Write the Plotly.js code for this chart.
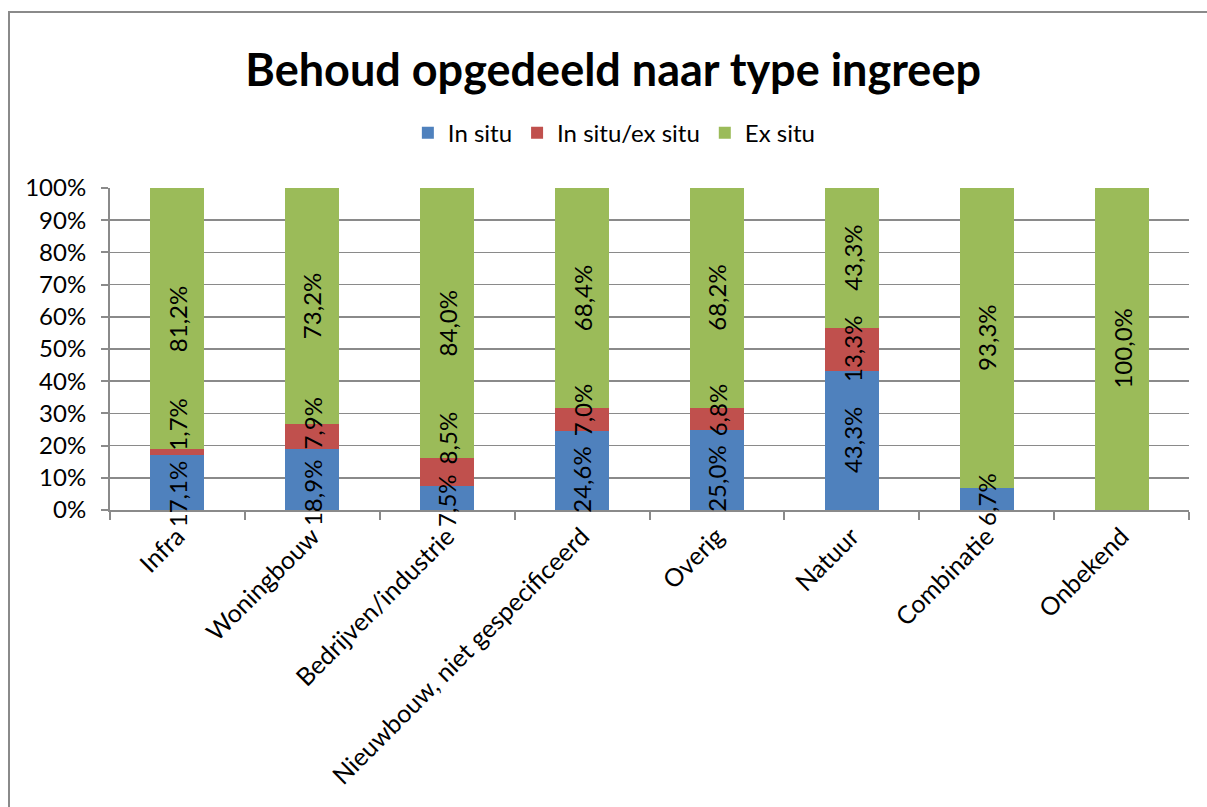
<!DOCTYPE html>
<html>
<head>
<meta charset="utf-8">
<script src="https://cdn.plot.ly/plotly-3.0.1.min.js"></script>
<style>
html,body{margin:0;padding:0;background:#fff;}
#chart{position:absolute;left:0;top:0;width:1207px;height:807px;}
#frame{position:absolute;left:8px;top:11px;width:1300px;height:900px;border-left:2px solid #8a8a8a;border-top:2px solid #8a8a8a;pointer-events:none;}
</style>
</head>
<body>
<div id="chart"></div>
<div id="frame"></div>
<script>
const categories = ["Infra", "Woningbouw", "Bedrijven/industrie", "Nieuwbouw, niet gespecificeerd", "Overig", "Natuur", "Combinatie", "Onbekend"];
const inSitu = [17.1, 18.9, 7.5, 24.6, 25.0, 43.3, 6.7, 0];
const inSituExSitu = [1.7, 7.9, 8.5, 7.0, 6.8, 13.3, 0, 0];
const exSitu = [81.2, 73.2, 84.0, 68.4, 68.2, 43.3, 93.3, 100.0];
const seriesNames = ["In situ", "In situ/ex situ", "Ex situ"];
const yTickVals = [0, 10, 20, 30, 40, 50, 60, 70, 80, 90, 100];

const colors = ["#4F81BD", "#C0504D", "#9BBB59"];
const fontFam = "Lato, 'Open Sans', sans-serif";
const labelSize = 24;
const fmt = v => v.toFixed(1).replace('.', ',') + '%';
const allSeries = [inSitu, inSituExSitu, exSitu];

const W = 1207, H = 807;
const margin = {l: 110, r: 18, t: 188, b: 297};
const plotH = H - margin.t - margin.b;
const yMax = 100;
const pxPerUnit = plotH / yMax;

// measure label length (rotated text -> vertical extent)
const ctx = document.createElement('canvas').getContext('2d');
ctx.font = labelSize + 'px Lato';
const textLen = s => ctx.measureText(s).width;

const traces = allSeries.map((vals, i) => ({
  type: 'bar',
  name: seriesNames[i],
  x: categories,
  y: vals,
  marker: {color: colors[i], line: {width: 0}},
  hoverinfo: 'none'
}));

// data labels centred in each stacked segment, nudged apart when they collide
const annotations = [];
const pad = 10;          // minimum gap between neighbouring labels (px)
const bottomLimit = 17;  // how far a label may extend below the axis (px)
categories.forEach((c, ci) => {
  let base = 0;
  const labs = [];
  allSeries.forEach(vals => {
    const v = vals[ci];
    if (v > 0) {
      const txt = fmt(v);
      labs.push({txt, pos: (base + v / 2) * pxPerUnit, len: textLen(txt)}); // px above axis
    }
    base += v;
  });
  for (let k = 0; k < labs.length - 1; k++) {
    const lo = labs[k], hi = labs[k + 1];
    const need = (lo.len + hi.len) / 2 + pad;
    const gap = hi.pos - lo.pos;
    if (gap < need) {
      const d = need - gap;
      let down = d / 2;
      const maxDown = lo.pos - lo.len / 2 + bottomLimit;
      if (down > maxDown) down = Math.max(0, maxDown);
      lo.pos -= down;
      hi.pos += d - down;
    }
  }
  labs.forEach(l => annotations.push({
    x: c, y: l.pos / pxPerUnit, xref: 'x', yref: 'y',
    text: l.txt, showarrow: false, textangle: -90,
    font: {family: fontFam, size: labelSize, color: '#000'}
  }));
});

const layout = {
  width: W,
  height: H,
  barmode: 'stack',
  bargap: 0.6,
  paper_bgcolor: '#fff',
  plot_bgcolor: '#fff',
  margin: margin,
  font: {family: fontFam, size: 24, color: '#000'},
  title: {
    text: '<b>Behoud opgedeeld naar type ingreep</b>',
    font: {family: fontFam, size: 45, color: '#000'},
    x: 0.508, xanchor: 'center', xref: 'container',
    y: 0.913, yanchor: 'middle', yref: 'container'
  },
  showlegend: true,
  legend: {
    orientation: 'h',
    x: 0.509, xanchor: 'center', xref: 'container',
    y: 0.835, yanchor: 'middle', yref: 'container',
    font: {family: fontFam, size: 24, color: '#000'},
    traceorder: 'normal',
    itemclick: false
  },
  annotations: annotations,
  xaxis: {
    type: 'category',
    tickangle: -45,
    tickson: 'boundaries',
    ticks: 'outside',
    ticklen: 8,
    tickwidth: 2,
    tickcolor: '#8a8a8a',
    showline: true,
    linecolor: '#8a8a8a',
    linewidth: 2,
    showgrid: false,
    tickfont: {family: fontFam, size: 25, color: '#000'}
  },
  yaxis: {
    range: [0, yMax],
    tickvals: yTickVals,
    ticktext: yTickVals.map(v => v + '%'),
    ticks: 'outside',
    ticklen: 7,
    tickwidth: 2,
    tickcolor: '#8a8a8a',
    showline: true,
    linecolor: '#8a8a8a',
    linewidth: 2,
    showgrid: true,
    gridcolor: '#8a8a8a',
    gridwidth: 1.7,
    zeroline: false,
    ticklabelstandoff: 10,
    tickfont: {family: fontFam, size: 24, color: '#000'}
  }
};

Plotly.newPlot('chart', traces, layout, {staticPlot: true, displayModeBar: false});
</script>
</body>
</html>
